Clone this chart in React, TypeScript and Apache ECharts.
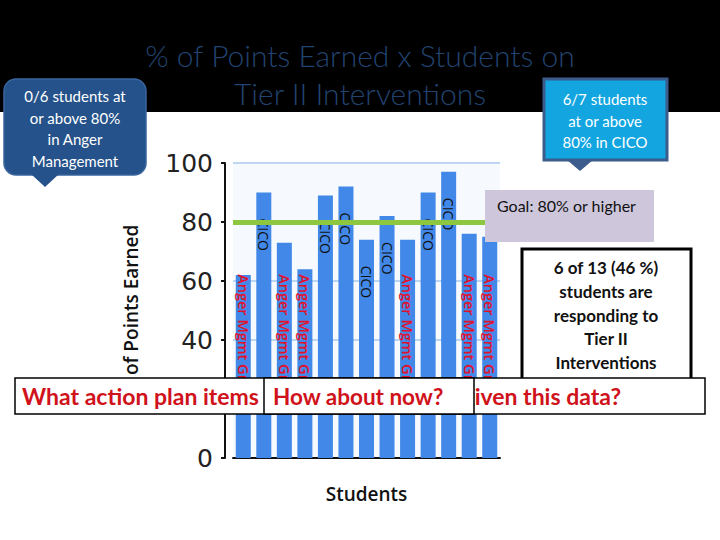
import React, { useEffect, useRef } from "react";
import * as echarts from "echarts";

const students = ["S1", "S2", "S3", "S4", "S5", "S6", "S7", "S8", "S9", "S10", "S11", "S12", "S13"];
const groups = [
  "Anger Mgmt Group", "CICO", "Anger Mgmt Group", "Anger Mgmt Group", "CICO", "CICO", "CICO",
  "CICO", "Anger Mgmt Group", "CICO", "CICO", "Anger Mgmt Group", "Anger Mgmt Group",
];
const points = [62, 90, 73, 64, 89, 92, 74, 82, 74, 90, 97, 76, 75];
const goal = 80;
const yMin = 0;
const yMax = 100;
const yStep = 20;

const titleLines = ["% of Points Earned x Students on", "Tier II Interventions"];
const angerNote = ["0/6 students at", "or above 80%", "in Anger", "Management"];
const cicoNote = ["6/7 students", "at or above", "80% in CICO"];
const goalNote = "Goal: 80% or higher";
const summaryNote = ["6 of 13 (46 %)", "students are", "responding to", "Tier II", "Interventions"];
const question = "What action plan items would you develop given this data?";
const followUp = "How about now?";

export default function App() {
  const ref = useRef<HTMLDivElement>(null);
  useEffect(() => {
    if (!ref.current) return;
    const chart = echarts.init(ref.current, undefined, { renderer: "svg" });

    const cicoLabel = {
      show: true,
      position: "insideTop",
      distance: 26,
      rotate: -90,
      align: "left",
      verticalAlign: "middle",
      color: "#111",
      fontFamily: "Open Sans",
      fontSize: 14,
      formatter: (p: any) => groups[p.dataIndex],
    };
    const angerLabel = {
      show: true,
      position: "insideBottom",
      distance: 50,
      rotate: -90,
      align: "right",
      verticalAlign: "middle",
      color: "#e3102c",
      fontFamily: "Open Sans",
      fontWeight: 600,
      fontSize: 14.5,
      formatter: (p: any) => groups[p.dataIndex],
    };

    const data = points.map((v, i) => ({
      value: v,
      label: groups[i] === "CICO" ? cicoLabel : angerLabel,
    }));

    const Z = 50;
    chart.setOption({
      animation: false,
      backgroundColor: "#ffffff",
      title: {
        text: titleLines.join("\n"),
        left: "center",
        top: 36,
        padding: 0,
        z: 10,
        textStyle: {
          color: "#22436f",
          fontFamily: "Lato",
          fontWeight: 300,
          fontSize: 30,
          lineHeight: 38,
        },
      },
      grid: {
        left: 233,
        right: 220,
        top: 163,
        bottom: 82,
        show: true,
        backgroundColor: "#f6fafe",
        borderWidth: 0,
      },
      xAxis: {
        type: "category",
        data: students,
        axisLine: { show: true, lineStyle: { color: "#111", width: 2 } },
        axisTick: { show: false },
        axisLabel: { show: false },
        name: "Students",
        nameLocation: "middle",
        nameGap: 26,
        nameTextStyle: { color: "#111", fontFamily: "Open Sans", fontWeight: 600, fontSize: 19 },
      },
      yAxis: {
        type: "value",
        min: yMin,
        max: yMax,
        interval: yStep,
        offset: 8,
        axisLine: { show: true, lineStyle: { color: "#111", width: 2 } },
        axisTick: { show: true, length: 4, lineStyle: { color: "#111", width: 2 } },
        axisLabel: { color: "#222", fontFamily: "DejaVu Sans", fontSize: 25, margin: 12 },
        splitLine: { show: true, lineStyle: { color: "#a9c8ec", width: 1.5 } },
        name: "% of Points Earned",
        nameLocation: "middle",
        nameRotate: 90,
        nameGap: 85,
        nameTextStyle: { color: "#111", fontFamily: "Open Sans", fontWeight: 600, fontSize: 19 },
      },
      series: [
        {
          type: "bar",
          data,
          barWidth: 15,
          itemStyle: { color: "#4188e8" },
          markLine: {
            silent: true,
            symbol: "none",
            label: { show: false },
            lineStyle: { color: "#8dc63f", width: 5, type: "solid" },
            data: [{ yAxis: goal }],
          },
        },
      ],
      graphic: {
        elements: [
          { type: "rect", z: 0, shape: { x: 0, y: 0, width: 720, height: 112 }, style: { fill: "#000" } },
          // left callout
          {
            type: "rect", z: Z,
            shape: { x: 4, y: 79, width: 142, height: 96, r: 12 },
            style: { fill: "#25528a", stroke: "#3a66a0", lineWidth: 1.5 },
          },
          { type: "polygon", z: Z, shape: { points: [[31, 174], [59, 174], [45, 187]] }, style: { fill: "#25528a" } },
          {
            type: "text", z: Z + 1, x: 75, y: 128.5,
            style: {
              text: angerNote.join("\n"), fill: "#fff", font: "15px Lato", lineHeight: 21.5,
              textAlign: "center", textVerticalAlign: "middle",
            },
          },
          // right callout
          {
            type: "rect", z: Z,
            shape: { x: 544, y: 79, width: 123, height: 81 },
            style: { fill: "#12a5e0", stroke: "#3b5c8c", lineWidth: 3 },
          },
          { type: "polygon", z: Z, shape: { points: [[567, 160], [593, 160], [580, 171]] }, style: { fill: "#3b5c8c" } },
          {
            type: "text", z: Z + 1, x: 605, y: 120.5,
            style: {
              text: cicoNote.join("\n"), fill: "#fff", font: "15px Lato", lineHeight: 21.5,
              textAlign: "center", textVerticalAlign: "middle",
            },
          },
          // goal box
          {
            type: "rect", z: Z,
            shape: { x: 485, y: 190, width: 169, height: 52 },
            style: { fill: "#cec7dc" },
          },
          {
            type: "text", z: Z + 1, x: 497, y: 205,
            style: { text: goalNote, fill: "#111", font: "16px Lato", textAlign: "left", textVerticalAlign: "middle" },
          },
          // summary box
          {
            type: "rect", z: Z,
            shape: { x: 522, y: 249, width: 169, height: 135 },
            style: { fill: "#fff", stroke: "#000", lineWidth: 3 },
          },
          {
            type: "text", z: Z + 1, x: 606, y: 315,
            style: {
              text: summaryNote.join("\n"), fill: "#111", font: "bold 17px Lato", lineHeight: 23.7,
              textAlign: "center", textVerticalAlign: "middle",
            },
          },
          // question box
          {
            type: "rect", z: Z + 2,
            shape: { x: 15, y: 378, width: 690, height: 36 },
            style: { fill: "#fff", stroke: "#000", lineWidth: 1.5 },
          },
          {
            type: "text", z: Z + 3, x: 22, y: 396,
            style: { text: question, fill: "#d0121b", font: "bold 23px Lato", textAlign: "left", textVerticalAlign: "middle" },
          },
          {
            type: "rect", z: Z + 4,
            shape: { x: 264, y: 378, width: 210, height: 36 },
            style: { fill: "#fff", stroke: "#000", lineWidth: 1.5 },
          },
          {
            type: "text", z: Z + 5, x: 273, y: 396,
            style: { text: followUp, fill: "#d0121b", font: "bold 22.5px Lato", textAlign: "left", textVerticalAlign: "middle" },
          },
        ],
      },
    });
    return () => chart.dispose();
  }, []);
  return (
    <div
      ref={ref}
      style={{ position: "fixed", left: 0, top: 0, width: 720, height: 540 }}
    />
  );
}
